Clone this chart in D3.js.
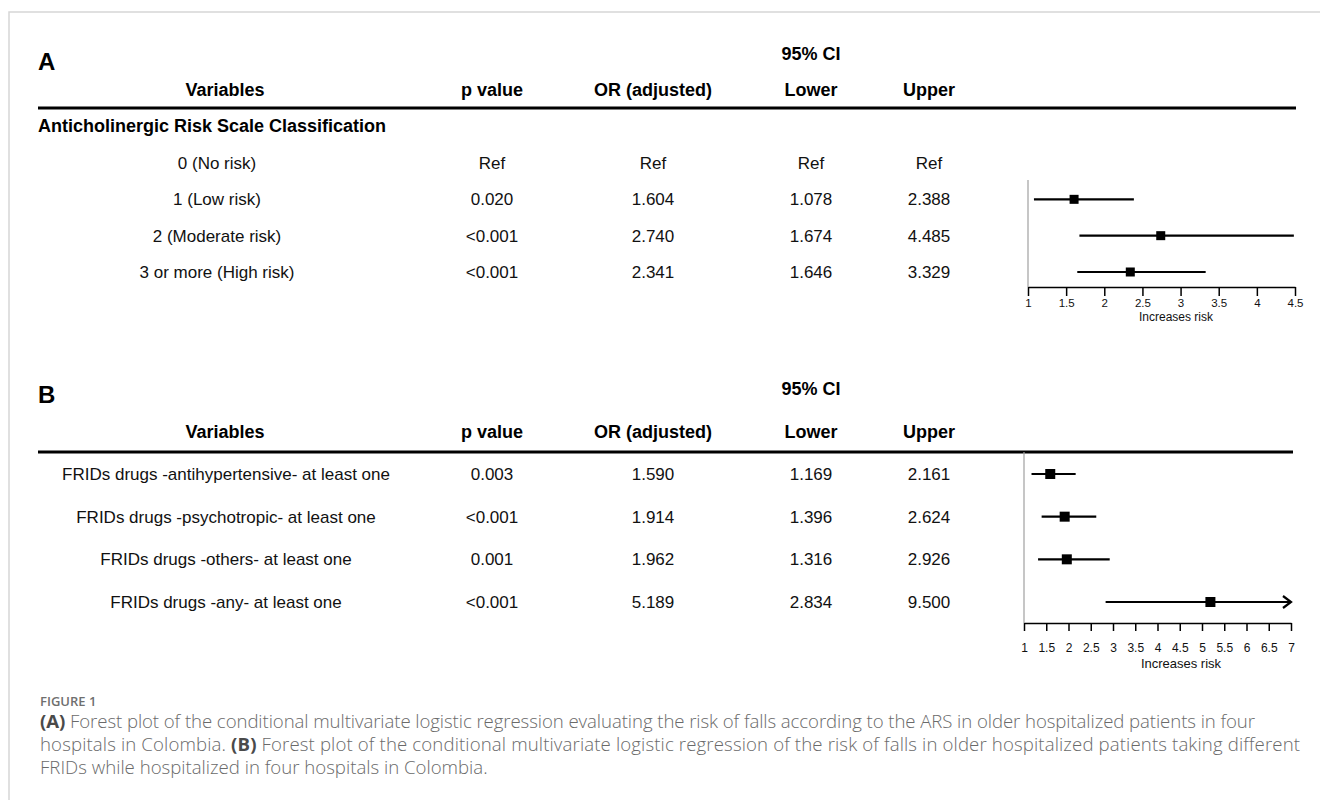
<!DOCTYPE html>
<html>
<head>
<meta charset="utf-8">
<script src="https://cdn.jsdelivr.net/npm/d3@7"></script>
<style>
  body { margin: 0; background: #fff; }
  svg { display: block; }
</style>
</head>
<body>
<script>
// panel A data
var groupA = "Anticholinergic Risk Scale Classification";
var varsA = ["0 (No risk)", "1 (Low risk)", "2 (Moderate risk)", "3 or more (High risk)"];
var pA = ["Ref", "0.020", "<0.001", "<0.001"];
var orA = [null, 1.604, 2.740, 2.341];
var lowA = [null, 1.078, 1.674, 1.646];
var upA = [null, 2.388, 4.485, 3.329];
var ticksA = [1, 1.5, 2, 2.5, 3, 3.5, 4, 4.5];

// panel B data
var varsB = ["FRIDs drugs -antihypertensive- at least one", "FRIDs drugs -psychotropic- at least one",
             "FRIDs drugs -others- at least one", "FRIDs drugs -any- at least one"];
var pB = ["0.003", "<0.001", "0.001", "<0.001"];
var orB = [1.590, 1.914, 1.962, 5.189];
var lowB = [1.169, 1.396, 1.316, 2.834];
var upB = [2.161, 2.624, 2.926, 9.500];
var ticksB = [1, 1.5, 2, 2.5, 3, 3.5, 4, 4.5, 5, 5.5, 6, 6.5, 7];

var headers = ["Variables", "p value", "OR (adjusted)", "Lower", "Upper"];
var axisTitle = "Increases risk";
var captionTitle = "FIGURE 1";
var captionLines = [
  [["(A)", true], [" Forest plot of the conditional multivariate logistic regression evaluating the risk of falls according to the ARS in older hospitalized patients in four", false]],
  [["hospitals in Colombia. ", false], ["(B)", true], [" Forest plot of the conditional multivariate logistic regression of the risk of falls in older hospitalized patients taking different", false]],
  [["FRIDs while hospitalized in four hospitals in Colombia.", false]]
];

var W = 1320, H = 800;
var FONT = "'Liberation Sans', Arial, sans-serif";
var fmt = d3.format(".3f");

var svg = d3.select("body").append("svg").attr("width", W).attr("height", H);
svg.append("rect").attr("width", W).attr("height", H).attr("fill", "#fff");

// frame
svg.append("path").attr("d", "M9,800V12H1320").attr("fill", "none")
   .attr("stroke", "#d6d6d6").attr("stroke-width", 1.5);

var colX = {p: 492, or: 653, lo: 811, up: 929};

function drawTable(o) {
  var g = svg.append("g");
  g.append("text").attr("x", 38).attr("y", o.letterY).text(o.letter)
    .attr("font-family", FONT).attr("font-weight", "bold").attr("font-size", 24);
  g.append("text").attr("x", colX.lo).attr("y", o.ciY).attr("text-anchor", "middle").text("95% CI")
    .attr("font-family", FONT).attr("font-weight", "bold").attr("font-size", 18);
  var hx = [225, colX.p, colX.or, colX.lo, colX.up];
  g.selectAll("text.h").data(headers).enter().append("text").attr("class", "h")
    .attr("x", function(d, i) { return hx[i]; }).attr("y", o.headY)
    .attr("text-anchor", "middle").attr("font-family", FONT).attr("font-weight", "bold")
    .attr("font-size", 18).text(function(d) { return d; });
  g.append("line").attr("x1", 38).attr("x2", o.lineEnd).attr("y1", o.lineY).attr("y2", o.lineY)
    .attr("stroke", "#000").attr("stroke-width", 3);
  if (o.group) {
    g.append("text").attr("x", 38).attr("y", o.groupY).text(o.group)
      .attr("font-family", FONT).attr("font-weight", "bold").attr("font-size", 18);
  }

  var y = d3.scalePoint().domain(d3.range(o.vars.length)).range(o.rowRange);
  var rows = g.selectAll("g.row").data(o.vars).enter().append("g").attr("class", "row")
    .attr("transform", function(d, i) { return "translate(0," + y(i) + ")"; })
    .attr("font-family", FONT).attr("font-size", 17).attr("fill", "#111");
  function cell(x, f) {
    rows.append("text").attr("x", x).attr("dy", "0.36em").attr("text-anchor", "middle").text(f);
  }
  cell(o.varX, function(d) { return d; });
  cell(colX.p, function(d, i) { return o.p[i]; });
  cell(colX.or, function(d, i) { return o.or[i] == null ? "Ref" : fmt(o.or[i]); });
  cell(colX.lo, function(d, i) { return o.low[i] == null ? "Ref" : fmt(o.low[i]); });
  cell(colX.up, function(d, i) { return o.up[i] == null ? "Ref" : fmt(o.up[i]); });

  // forest plot
  var x = d3.scaleLinear().domain(d3.extent(o.ticks)).range(o.xRange);
  var xMax = x.domain()[1];
  g.append("line").attr("x1", x(1)).attr("x2", x(1)).attr("y1", o.refTop).attr("y2", o.axisY)
    .attr("stroke", "#a0a0a0").attr("stroke-width", 1.2);

  var idx = d3.range(o.vars.length).filter(function(i) { return o.or[i] != null; });
  var marks = g.selectAll("g.ci").data(idx).enter().append("g").attr("class", "ci");
  marks.append("line")
    .attr("x1", function(i) { return x(o.low[i]); })
    .attr("x2", function(i) { return x(Math.min(o.up[i], xMax)); })
    .attr("y1", function(i) { return y(i); }).attr("y2", function(i) { return y(i); })
    .attr("stroke", "#000").attr("stroke-width", 2.2);
  marks.append("rect")
    .attr("x", function(i) { return x(o.or[i]) - o.box / 2; })
    .attr("y", function(i) { return y(i) - o.box / 2; })
    .attr("width", o.box).attr("height", o.box).attr("fill", "#000");
  marks.filter(function(i) { return o.up[i] > xMax; }).append("path")
    .attr("d", function(i) {
      var ax = x(xMax), ay = y(i);
      return "M" + (ax - 8) + "," + (ay - 6) + "L" + ax + "," + ay + "L" + (ax - 8) + "," + (ay + 6);
    })
    .attr("fill", "none").attr("stroke", "#000").attr("stroke-width", 2.2);

  var axis = g.append("g").attr("transform", "translate(0," + o.axisY + ")")
    .call(d3.axisBottom(x).tickValues(o.ticks).tickSize(o.tickSize).tickSizeOuter(0)
      .tickPadding(o.tickPad).tickFormat(d3.format("")));
  axis.select(".domain").attr("stroke", "#000").attr("stroke-width", 1.5);
  axis.selectAll(".tick line").attr("stroke", "#000").attr("stroke-width", 1.5);
  axis.selectAll(".tick text").attr("font-family", FONT).attr("font-size", o.tickFont).attr("fill", "#111");
  g.append("text").attr("x", o.titleX).attr("y", o.titleY).attr("text-anchor", "middle")
    .attr("font-family", FONT).attr("font-size", o.titleFont).attr("fill", "#111").text(axisTitle);
}

drawTable({
  letter: "A", letterY: 70, ciY: 60, headY: 96, lineY: 108, lineEnd: 1296,
  group: groupA, groupY: 132,
  vars: varsA, p: pA, or: orA, low: lowA, up: upA, varX: 217, rowRange: [163, 272],
  ticks: ticksA, xRange: [1028, 1295], refTop: 180, axisY: 287, tickSize: 9, tickPad: 3,
  tickFont: 11.5, box: 9, titleX: 1176, titleY: 321, titleFont: 12
});

drawTable({
  letter: "B", letterY: 403, ciY: 395, headY: 438, lineY: 452, lineEnd: 1293,
  vars: varsB, p: pB, or: orB, low: lowB, up: upB, varX: 226, rowRange: [474, 602],
  ticks: ticksB, xRange: [1024, 1291], refTop: 452, axisY: 623, tickSize: 8, tickPad: 12,
  tickFont: 12, box: 10, titleX: 1181, titleY: 668, titleFont: 13
});

// caption
var cap = svg.append("g").attr("font-family", "'Open Sans', 'Noto Sans', sans-serif").attr("fill", "#6a6a6a");
cap.append("text").attr("x", 40).attr("y", 706).attr("font-size", 13).attr("font-weight", 600)
  .attr("fill", "#6f6f6f").text(captionTitle);
var capY = [728, 751, 774];
var capWidth = [1215, 1260, null];
var capTexts = cap.selectAll("text.cl").data(captionLines).enter().append("text").attr("class", "cl")
  .attr("x", 40).attr("y", function(d, i) { return capY[i]; })
  .attr("font-size", 16).attr("font-weight", 300);
capTexts.selectAll("tspan").data(function(d) { return d; }).enter().append("tspan")
  .attr("font-weight", function(d) { return d[1] ? 700 : 300; })
  .attr("fill", function(d) { return d[1] ? "#4a4a4a" : null; })
  .text(function(d) { return d[0]; });
// size the caption so the longest line spans the figure, then even up the first line
var w2 = capTexts.nodes()[1].getComputedTextLength();
capTexts.attr("font-size", 16 * 1240 / w2);
capTexts.filter(function(d, i) { return capWidth[i] != null; })
  .attr("textLength", function(d, i) { return capWidth[i]; })
  .attr("lengthAdjust", "spacing");
</script>
</body>
</html>
